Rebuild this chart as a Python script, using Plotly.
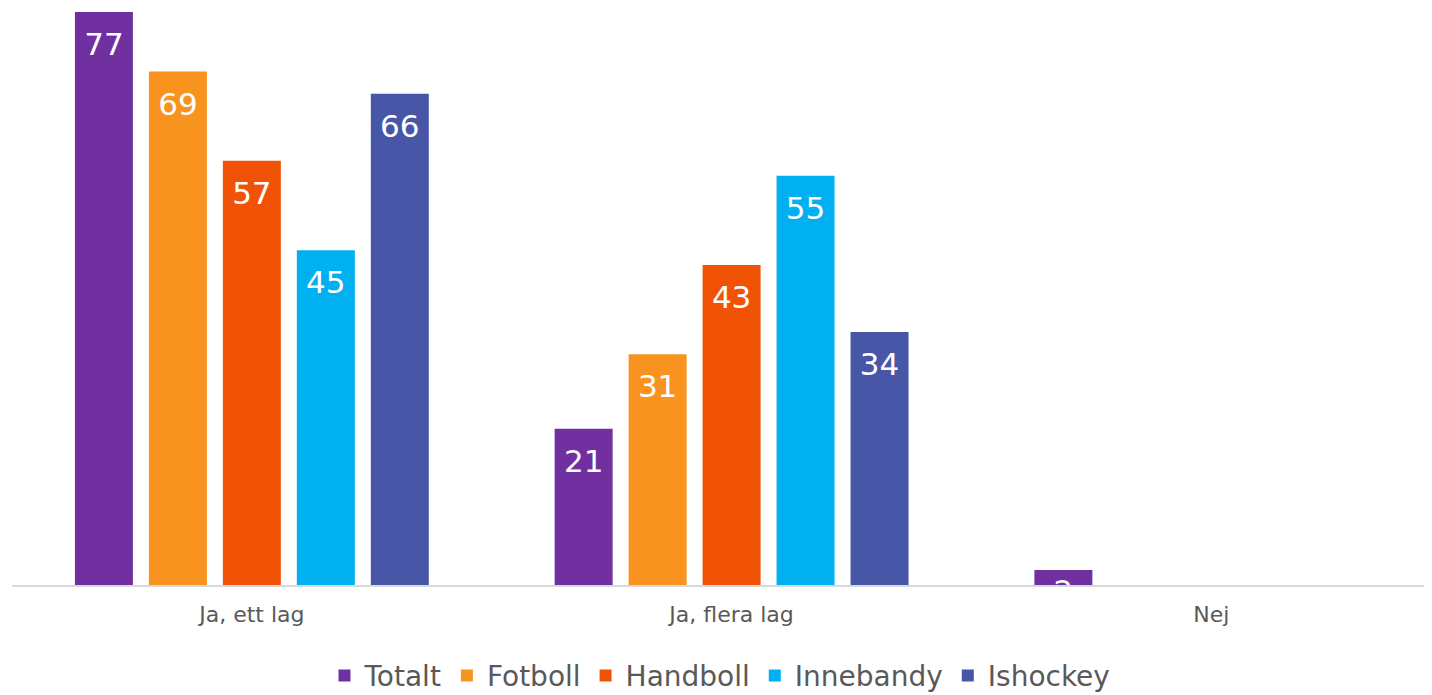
import plotly.graph_objects as go

categories = ["Ja, ett lag", "Ja, flera lag", "Nej"]
series_names = ["Totalt", "Fotboll", "Handboll", "Innebandy", "Ishockey"]
totalt = [77, 21, 2]
fotboll = [69, 31, None]
handboll = [57, 43, None]
innebandy = [45, 55, None]
ishockey = [66, 34, None]

colors = ["#7030A0", "#F7931E", "#F05206", "#00B0F0", "#4756A6"]
values = [totalt, fotboll, handboll, innebandy, ishockey]

font_family = "Verdana, DejaVu Sans, sans-serif"
label_drop = 1.5  # push the value labels a bit lower inside the bars


def label_pos(v):
    if v is None:
        return None
    return v - label_drop if v > 5 else v


fig = go.Figure()
for i, (name, vals, col) in enumerate(zip(series_names, values, colors)):
    fig.add_trace(go.Bar(
        x=categories, y=vals, name=name, offsetgroup=str(i),
        marker=dict(color=col, line=dict(width=0)),
    ))
for i, vals in enumerate(values):
    fig.add_trace(go.Bar(
        x=categories,
        y=[label_pos(v) for v in vals],
        offsetgroup=str(i), showlegend=False, hoverinfo="skip",
        marker=dict(color="rgba(0,0,0,0)", line=dict(width=0)),
        text=[("" if v is None else str(v)) for v in vals],
        textposition="inside", insidetextanchor="end", textangle=0,
        textfont=dict(color="white", size=31, family=font_family),
    ))

fig.update_layout(
    width=1424, height=687,
    margin=dict(l=4, r=0, t=4, b=110),
    barmode="group", bargap=0.229, bargroupgap=0.216,
    plot_bgcolor="white", paper_bgcolor="white",
    font=dict(family=font_family, color="#595959"),
    uniformtext=dict(minsize=31, mode="show"),
    legend=dict(orientation="h", x=0.5, xanchor="center", xref="container",
                y=0.028, yanchor="middle", yref="container",
                font=dict(size=28, color="#595959"), itemwidth=30,
                traceorder="normal"),
    showlegend=True,
)
fig.update_xaxes(range=[-0.5, 2.46], showline=True, linecolor="#D9D9D9", linewidth=2,
                 ticks="", tickfont=dict(size=22, color="#595959"), showgrid=False,
                 ticklabelstandoff=9)
fig.update_yaxes(range=[0, 77], visible=False, showgrid=False)

fig.write_html("out.html")
